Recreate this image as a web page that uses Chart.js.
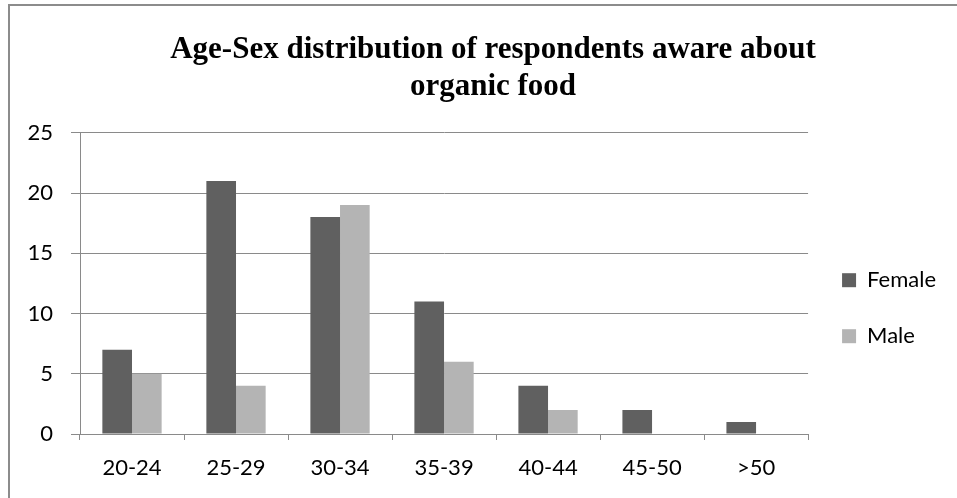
<!DOCTYPE html>
<html>
<head>
<meta charset="utf-8">
<script src="https://cdn.jsdelivr.net/npm/chart.js@4.4.1/dist/chart.umd.min.js"></script>
<style>
  html, body { margin: 0; padding: 0; background: #ffffff; }
  #wrap { position: relative; width: 957px; height: 498px; overflow: hidden; }
  #frame { position: absolute; left: 8px; top: 4px; width: 1000px; height: 600px;
           border-left: 2px solid #8c8c8c; border-top: 2px solid #8c8c8c; pointer-events: none; }
</style>
</head>
<body>
<div id="wrap">
  <canvas id="ageChart" width="957" height="498"></canvas>
  <div id="frame"></div>
</div>
<script>
// values
const ageGroups = ['20-24', '25-29', '30-34', '35-39', '40-44', '45-50', '>50'];
const female = [7, 21, 18, 11, 4, 2, 1];
const male = [5, 4, 19, 6, 2, 0, 0];
const yTicks = [0, 5, 10, 15, 20, 25];

const labelFont = { family: 'Lato, "Liberation Sans", sans-serif', size: 22 };
const gridColor = '#8a8a8a';

// title in the original is centred a bit right of the canvas middle
const nudgeTitle = {
    id: 'nudgeTitle',
    afterLayout(chart) {
        if (chart.titleBlock) chart.titleBlock.left += 40;
    }
};

const ctx = document.getElementById('ageChart').getContext('2d');
new Chart(ctx, {
    type: 'bar',
    data: {
        labels: ageGroups,
        datasets: [
            { label: 'Female', data: female, backgroundColor: '#606060', barPercentage: 1, categoryPercentage: 0.57 },
            { label: 'Male', data: male, backgroundColor: '#b4b4b4', barPercentage: 1, categoryPercentage: 0.57 }
        ]
    },
    plugins: [nudgeTitle],
    options: {
        responsive: false,
        animation: false,
        layout: { padding: { left: 0, right: 11, top: 0, bottom: 0 } },
        plugins: {
            title: {
                display: true,
                text: ['Age-Sex distribution of respondents aware about', 'organic food'],
                font: { family: '"Liberation Serif", "Times New Roman", serif', size: 31, weight: 'bold', lineHeight: 1.19 },
                color: '#000000',
                padding: { top: 32, bottom: 27 }
            },
            legend: {
                position: 'right',
                maxWidth: 149,
                // empty legend title only pushes the two entries down
                title: { display: true, text: ' ', padding: { top: 0, bottom: 104 } },
                labels: {
                    font: labelFont,
                    color: '#000000',
                    boxWidth: 14,
                    boxHeight: 14,
                    padding: 34
                }
            },
            tooltip: { enabled: false }
        },
        scales: {
            x: {
                grid: { display: true, drawOnChartArea: false, color: gridColor, tickLength: 6, offset: true },
                border: { color: gridColor, width: 1 },
                ticks: { font: labelFont, color: '#000000', padding: 15, maxRotation: 0 },
                afterFit: (scale) => { scale.height = 64; }
            },
            y: {
                min: 0,
                max: 25,
                afterBuildTicks: (scale) => { scale.ticks = yTicks.map(v => ({ value: v })); },
                grid: { color: gridColor, tickLength: 9 },
                border: { color: gridColor, width: 1 },
                ticks: { font: labelFont, color: '#000000', padding: 18 },
                afterFit: (scale) => { scale.width = 80; }
            }
        }
    }
});
</script>
</body>
</html>
